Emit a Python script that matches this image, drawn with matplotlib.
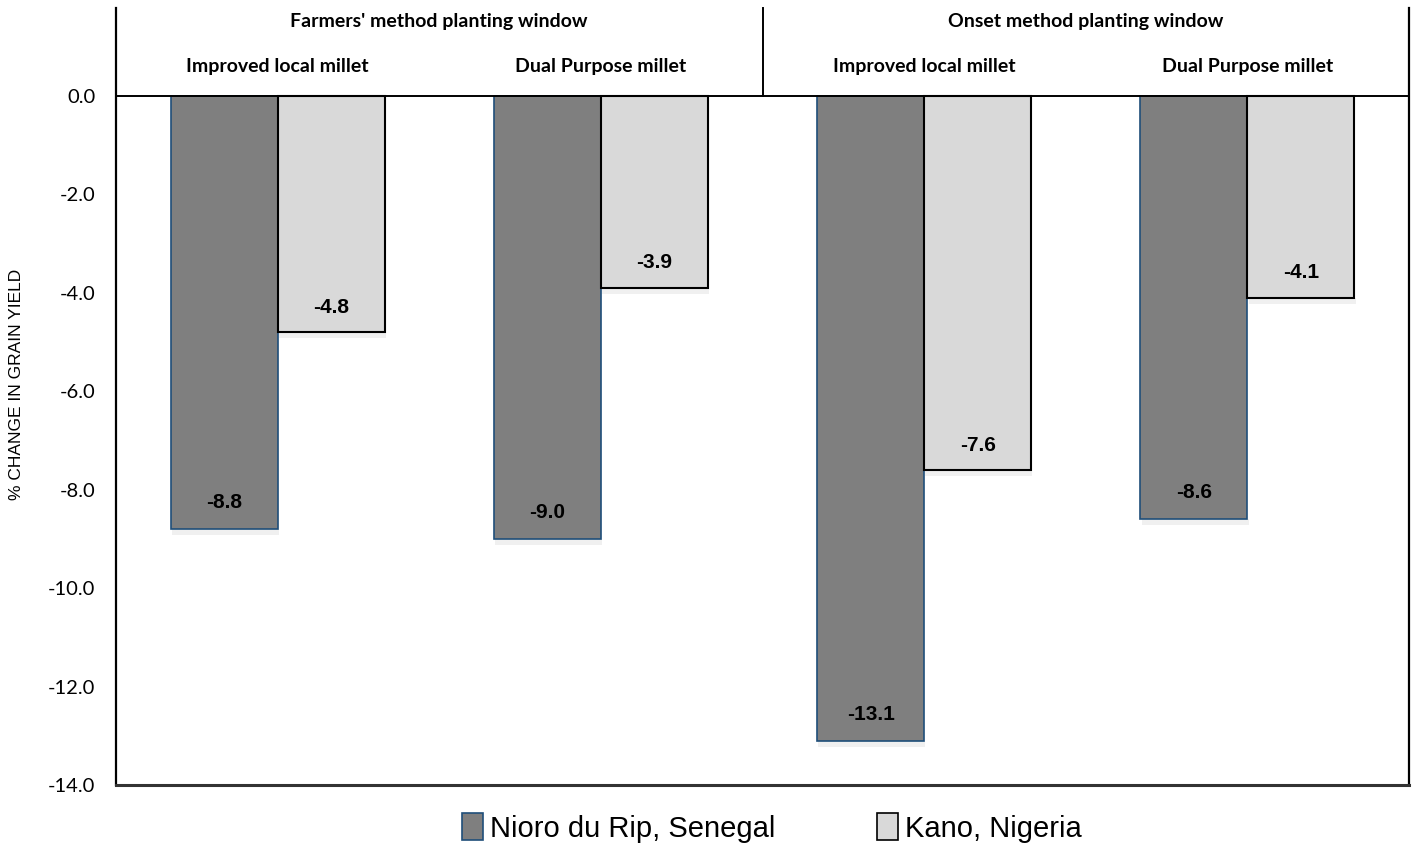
import matplotlib
matplotlib.use("Agg")
import matplotlib.pyplot as plt
from matplotlib.patches import Patch
import numpy as np

# ---- data ----
windows = ["Farmers' method planting window", "Onset method planting window"]
varieties = ["Improved local millet", "Dual Purpose millet",
             "Improved local millet", "Dual Purpose millet"]
series_names = ["Nioro du Rip, Senegal", "Kano, Nigeria"]
senegal = [-8.8, -9.0, -13.1, -8.6]
nigeria = [-4.8, -3.9, -7.6, -4.1]
yticks = [0, -2, -4, -6, -8, -10, -12, -14]

dark_fc, dark_ec = "#7f7f7f", "#1f4e79"
light_fc, light_ec = "#d9d9d9", "#000000"

fig = plt.figure(figsize=(14.17, 8.5), dpi=100)
ax = fig.add_axes([116/1417, 1-785/850, (1409-116)/1417, (785-8)/850])

x = np.arange(len(varieties))
w = 0.331
ytop = 88/49.2
ax.set_xlim(-0.5, len(varieties)-0.5)
ax.set_ylim(-14, ytop)

ax.bar(x - w/2, senegal, w, color=dark_fc, edgecolor=dark_ec, linewidth=1.2, zorder=3)
ax.bar(x + w/2, nigeria, w, color=light_fc, edgecolor=light_ec, linewidth=1.5, zorder=3)

# subtle shadows under bar ends
for xs, vals in ((x - w/2, senegal), (x + w/2, nigeria)):
    for xi, v in zip(xs, vals):
        ax.bar(xi + 0.004, 0.12, w, bottom=v - 0.12, color="#000000", alpha=0.06,
               linewidth=0, zorder=2)

lab_font = dict(family=["Liberation Sans", "DejaVu Sans"], fontsize=15, fontweight="bold")
for xi, v in zip(x - w/2, senegal):
    ax.annotate(f"{v:.1f}", (xi, v), xytext=(0, 19), textcoords="offset points",
                ha="center", va="center", zorder=5, **lab_font)
for xi, v in zip(x + w/2, nigeria):
    ax.annotate(f"{v:.1f}", (xi, v), xytext=(0, 18), textcoords="offset points",
                ha="center", va="center", zorder=5, **lab_font)

# frame
ax.spines["top"].set_visible(False)
ax.spines["left"].set_linewidth(1.6)
ax.spines["right"].set_linewidth(1.6)
ax.spines["bottom"].set_linewidth(2.2)
ax.spines["bottom"].set_color("#333333")
ax.axhline(0, color="black", lw=1.4, zorder=4)
ax.plot([1.5, 1.5], [0, ytop], color="black", lw=1.4, zorder=4, clip_on=False)

hdr_font = dict(family=["Lato", "DejaVu Sans"], fontsize=14, fontweight="bold")
for i, wname in enumerate(windows):
    ax.text(0.5 + 2*i, 1.52, wname, ha="center", va="center", **hdr_font)
for xi, v in zip(x, varieties):
    ax.text(xi, 0.61, v, ha="center", va="center", **hdr_font)

ax.set_xticks([])
ax.set_yticks(yticks)
ax.set_yticklabels([f"{t:.1f}" for t in yticks], family=["Lato", "DejaVu Sans"], fontsize=14.5)
ax.tick_params(axis="y", length=0, pad=15)

fig.text(17/1417, 1-384/850, "% CHANGE IN GRAIN YIELD", rotation=90, ha="center", va="center",
         family=["Liberation Sans", "DejaVu Sans"], fontsize=12.5)

handles = [Patch(facecolor=dark_fc, edgecolor=dark_ec, linewidth=1.2),
           Patch(facecolor=light_fc, edgecolor=light_ec, linewidth=1.2)]
fig.legend(handles, series_names, loc="center", bbox_to_anchor=(772/1417, 1-828/850),
           ncol=2, frameon=False, handlelength=0.7, handleheight=1.0, handletextpad=0.25,
           columnspacing=3.5,
           prop=dict(family=["Liberation Sans Narrow", "Liberation Sans", "DejaVu Sans"], size=21))

fig.savefig("out.png", dpi=100, facecolor="white")
